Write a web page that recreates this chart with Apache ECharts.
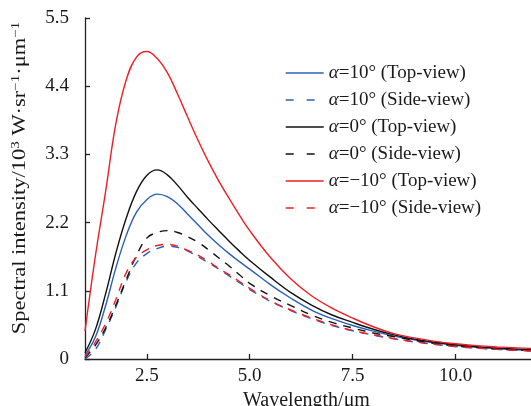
<!DOCTYPE html>
<html>
<head>
<meta charset="utf-8">
<style>
  html, body { margin: 0; padding: 0; background: #fff; }
  #chart { width: 531px; height: 406px; }
</style>
<script src="https://cdn.jsdelivr.net/npm/echarts@6/dist/echarts.min.js"></script>
</head>
<body>
<div id="chart"></div>
<script>
// Wavelength samples (μm)
const wavelength = [1.0, 1.25, 1.5, 1.75, 2.0, 2.25, 2.5, 2.75, 3.0, 3.25, 3.5, 3.75, 4.0, 4.25, 4.5, 4.75,
  5.0, 5.5, 6.0, 6.5, 7.0, 7.5, 8.0, 8.5, 9.0, 9.5, 10.0, 10.5, 11.0, 11.5, 12.0];

// Spectral intensity (10^3 W·sr^-1·μm^-1)
const alpha10Top = [0.06, 0.35, 0.86, 1.47, 1.99, 2.37, 2.57, 2.66, 2.62, 2.50, 2.33, 2.16, 1.99, 1.84, 1.70, 1.57,
  1.45, 1.20, 0.98, 0.79, 0.65, 0.54, 0.45, 0.37, 0.31, 0.26, 0.22, 0.19, 0.17, 0.15, 0.14];
const alpha10Side = [0.00, 0.15, 0.47, 0.84, 1.25, 1.55, 1.70, 1.78, 1.82, 1.80, 1.74, 1.65, 1.55, 1.45, 1.34, 1.23,
  1.12, 0.93, 0.78, 0.65, 0.54, 0.455, 0.385, 0.325, 0.275, 0.235, 0.20, 0.175, 0.155, 0.14, 0.125];
const alpha0Top = [0.10, 0.47, 1.05, 1.71, 2.27, 2.70, 2.96, 3.05, 2.97, 2.80, 2.60, 2.42, 2.24, 2.07, 1.90, 1.74,
  1.59, 1.32, 1.07, 0.87, 0.71, 0.59, 0.48, 0.39, 0.32, 0.27, 0.23, 0.20, 0.175, 0.16, 0.145];
const alpha0Side = [0.02, 0.22, 0.50, 0.87, 1.28, 1.67, 1.95, 2.04, 2.07, 2.04, 1.97, 1.88, 1.76, 1.63, 1.50, 1.36,
  1.22, 1.02, 0.86, 0.71, 0.59, 0.50, 0.42, 0.36, 0.30, 0.25, 0.21, 0.185, 0.16, 0.145, 0.13];
const alphaM10Top = [0.45, 1.65, 2.70, 3.80, 4.50, 4.87, 4.96, 4.85, 4.62, 4.27, 3.89, 3.52, 3.18, 2.87, 2.59, 2.32,
  2.07, 1.64, 1.29, 1.02, 0.82, 0.66, 0.52, 0.41, 0.34, 0.285, 0.245, 0.215, 0.195, 0.18, 0.165];
const alphaM10Side = [0.03, 0.27, 0.57, 0.96, 1.39, 1.64, 1.76, 1.83, 1.85, 1.82, 1.75, 1.67, 1.57, 1.46, 1.36, 1.25,
  1.14, 0.94, 0.79, 0.66, 0.55, 0.46, 0.39, 0.33, 0.28, 0.24, 0.20, 0.18, 0.155, 0.14, 0.125];

const xTicks = [2.5, 5.0, 7.5, 10.0];

const BLUE = '#2b5fb4';
const BLACK = '#111111';
const RED = '#ee1f26';
const FONT = '"Liberation Serif", "Times New Roman", serif';

const pairs = ys => wavelength.map((x, i) => [x, ys[i]]);

const seriesDefs = [
  { name: 'α=10° (Top-view)', data: alpha10Top, color: BLUE, dashed: false },
  { name: 'α=10° (Side-view)', data: alpha10Side, color: BLUE, dashed: true },
  { name: 'α=0° (Top-view)', data: alpha0Top, color: BLACK, dashed: false },
  { name: 'α=0° (Side-view)', data: alpha0Side, color: BLACK, dashed: true },
  { name: 'α=−10° (Top-view)', data: alphaM10Top, color: RED, dashed: false },
  { name: 'α=−10° (Side-view)', data: alphaM10Side, color: RED, dashed: true }
];

const chart = echarts.init(document.getElementById('chart'), null, { renderer: 'canvas' });

chart.setOption({
  animation: false,
  backgroundColor: '#fff',
  grid: { left: 85, right: -7, top: 18, bottom: 47, containLabel: false, outerBoundsMode: 'none' },
  legend: {
    orient: 'vertical',
    left: 285,
    top: 63,
    padding: 0,
    itemWidth: 38,
    itemHeight: 14,
    itemGap: 7,
    itemStyle: { opacity: 0 },
    data: seriesDefs.map(s => ({
      name: s.name,
      itemStyle: { opacity: 0 },
      lineStyle: s.dashed ? { type: [8, 13], width: 1.4 } : { width: 1.4 }
    })),
    textStyle: {
      fontFamily: FONT,
      fontSize: 19,
      color: '#1a1a1a',
      lineHeight: 20,
      rich: {
        i: { fontFamily: FONT, fontSize: 19, fontStyle: 'italic', color: '#1a1a1a' }
      }
    },
    formatter: name => '{i|α}' + name.slice(1)
  },
  xAxis: {
    type: 'value',
    min: 1.0,
    max: 12.0,
    name: 'Wavelength/μm',
    nameLocation: 'middle',
    nameGap: 32,
    nameTextStyle: { fontFamily: FONT, fontSize: 20, color: '#1a1a1a', padding: [0, 10, 0, 0] },
    splitLine: { show: false },
    axisLine: { lineStyle: { color: '#222', width: 1.3 } },
    axisTick: { inside: true, length: 5, customValues: xTicks, lineStyle: { color: '#222', width: 1.3 } },
    axisLabel: {
      customValues: xTicks,
      margin: 8,
      fontFamily: FONT, fontSize: 19, color: '#1a1a1a',
      formatter: v => v.toFixed(1)
    }
  },
  yAxis: {
    type: 'value',
    min: 0,
    max: 5.5,
    interval: 1.1,
    splitLine: { show: false },
    axisLine: { show: true, lineStyle: { color: '#222', width: 1.3 } },
    axisTick: { inside: true, length: 5, lineStyle: { color: '#222', width: 1.3 } },
    axisLabel: {
      margin: 16,
      fontFamily: FONT, fontSize: 19, color: '#1a1a1a',
      formatter: v => (Math.abs(v) < 1e-9 ? '0' : v.toFixed(1))
    }
  },
  graphic: [{
    type: 'text',
    x: 20,
    y: 178,
    rotation: Math.PI / 2,
    scaleX: 1.25,
    style: {
      text: '{a|Spectral intensity/10}{s|3}{a| W·sr}{s|−1}{a|·μm}{s|−1}',
      align: 'center',
      verticalAlign: 'middle',
      fill: '#1a1a1a',
      rich: {
        a: { fontFamily: FONT, fontSize: 18, lineHeight: 20, fill: '#1a1a1a' },
        s: { fontFamily: FONT, fontSize: 12, lineHeight: 12, verticalAlign: 'top', fill: '#1a1a1a' }
      }
    }
  }],
  series: seriesDefs.map(s => ({
    name: s.name,
    type: 'line',
    data: pairs(s.data),
    smooth: 0.4,
    symbol: 'none',
    showSymbol: false,
    clip: true,
    lineStyle: { color: s.color, width: 1.4, type: s.dashed ? [8, 7] : 'solid' },
    itemStyle: { color: s.color }
  }))
});
</script>
</body>
</html>
